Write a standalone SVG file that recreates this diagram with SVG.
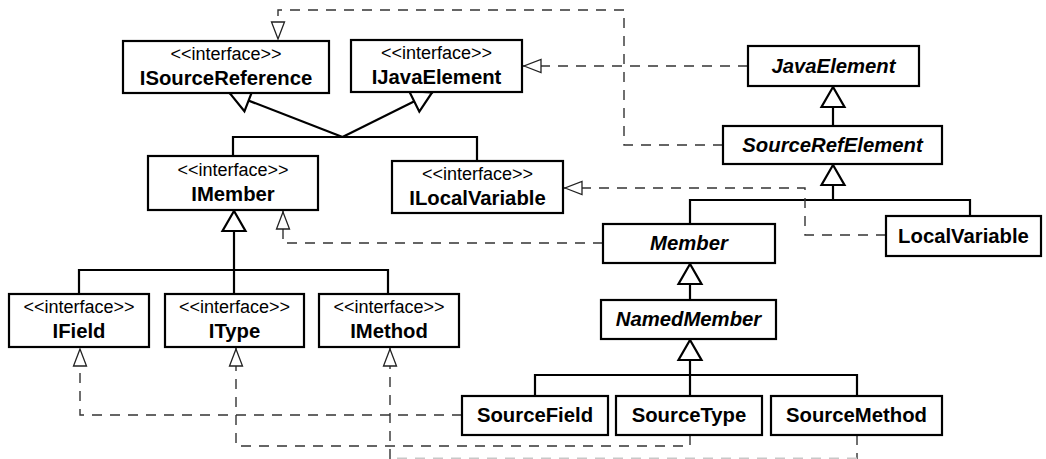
<svg xmlns="http://www.w3.org/2000/svg" width="1046" height="459" viewBox="0 0 1046 459">
<style>
.box{fill:#fff;stroke:#000;stroke-width:2.2}
.st{font-family:"Liberation Sans",Arial,sans-serif;font-size:18px;fill:#000;text-anchor:middle}
.nm{font-family:"Liberation Sans",Arial,sans-serif;font-size:20.3px;font-weight:bold;fill:#000;text-anchor:middle}
.ab{font-style:italic}
.gen{fill:none;stroke:#000;stroke-width:2.2}
.real{fill:none;stroke:#333;stroke-width:1.4;stroke-dasharray:10 8}
.faint{fill:none;stroke:#c8c8c8;stroke-width:1.4;stroke-dasharray:10 8}
</style>
<defs>
<marker id="tri" viewBox="-23 -14 25 28" markerWidth="25" markerHeight="28" refX="0" refY="0" orient="auto" markerUnits="userSpaceOnUse">
<path d="M-1,0 L-21,-11.5 L-21,11.5 Z" fill="#fff" stroke="#000" stroke-width="2.2" stroke-linejoin="miter"/>
</marker>
<marker id="rtri" viewBox="-20 -9 22 18" markerWidth="22" markerHeight="18" refX="0" refY="0" orient="auto" markerUnits="userSpaceOnUse">
<path d="M-1,0 L-18,-6.5 L-18,6.5 Z" fill="#fff" stroke="#222" stroke-width="1.3" stroke-dasharray="none"/>
</marker>
</defs>

<g id="connectors">
<path class="gen" d="M233,156 V137 H477 V161"/>
<path class="gen" d="M342.5,137 L229,93" marker-end="url(#tri)"/>
<path class="gen" d="M342.5,137 L433,92" marker-end="url(#tri)"/>
<path class="gen" d="M833,126 V86" marker-end="url(#tri)"/>
<path class="gen" d="M690,224 V200 H970 V216"/>
<path class="gen" d="M833,200 V164" marker-end="url(#tri)"/>
<path class="gen" d="M690,300 V263" marker-end="url(#tri)"/>
<path class="gen" d="M79,294 V270 H388 V294"/>
<path class="gen" d="M234,294 V210" marker-end="url(#tri)"/>
<path class="gen" d="M535,396 V375 H857 V396"/>
<path class="gen" d="M690,396 V339" marker-end="url(#tri)"/>
<path class="real" d="M748,66 H523" marker-end="url(#rtri)"/>
<path class="real" d="M723,145 H624 V10 H278 V40" marker-end="url(#rtri)"/>
<path class="real" d="M886,235 H805 V188 H564" marker-end="url(#rtri)"/>
<path class="real" d="M603,243 H283 V211" marker-end="url(#rtri)"/>
<path class="real" d="M462,415 H80 V348" marker-end="url(#rtri)"/>
<path class="real" d="M690,435 V446 H236 V348" marker-end="url(#rtri)"/>
<path class="real" d="M857,435 V459"/>
<path class="faint" d="M857,458.3 H390"/>
<path class="real" d="M390,459 V348" marker-end="url(#rtri)"/>
</g>

<g id="ISourceReference">
<rect class="box" x="123" y="41" width="206" height="52"/>
<text class="st" x="226" y="60">&lt;&lt;interface&gt;&gt;</text>
<text class="nm" x="226" y="85">ISourceReference</text>
</g>
<g id="IJavaElement">
<rect class="box" x="351" y="40" width="171" height="52"/>
<text class="st" x="436.5" y="59">&lt;&lt;interface&gt;&gt;</text>
<text class="nm" x="436.5" y="84">IJavaElement</text>
</g>
<g id="JavaElement">
<rect class="box" x="748" y="46" width="171" height="40"/>
<text class="nm ab" x="833.5" y="73">JavaElement</text>
</g>
<g id="SourceRefElement">
<rect class="box" x="723" y="126" width="219" height="38"/>
<text class="nm ab" x="832.5" y="152">SourceRefElement</text>
</g>
<g id="IMember">
<rect class="box" x="148" y="156" width="170" height="54"/>
<text class="st" x="233" y="176">&lt;&lt;interface&gt;&gt;</text>
<text class="nm" x="233" y="201">IMember</text>
</g>
<g id="ILocalVariable">
<rect class="box" x="392" y="161" width="171" height="52"/>
<text class="st" x="477.5" y="180">&lt;&lt;interface&gt;&gt;</text>
<text class="nm" x="477.5" y="205">ILocalVariable</text>
</g>
<g id="Member">
<rect class="box" x="603" y="224" width="172" height="39"/>
<text class="nm ab" x="689" y="250">Member</text>
</g>
<g id="LocalVariable">
<rect class="box" x="886" y="216" width="155" height="40"/>
<text class="nm" x="963.5" y="243">LocalVariable</text>
</g>
<g id="NamedMember">
<rect class="box" x="601" y="300" width="175" height="39"/>
<text class="nm ab" x="688.5" y="326">NamedMember</text>
</g>
<g id="IField">
<rect class="box" x="9" y="294" width="140" height="53"/>
<text class="st" x="79" y="313">&lt;&lt;interface&gt;&gt;</text>
<text class="nm" x="79" y="338">IField</text>
</g>
<g id="IType">
<rect class="box" x="165" y="294" width="139" height="53"/>
<text class="st" x="234.5" y="313">&lt;&lt;interface&gt;&gt;</text>
<text class="nm" x="234.5" y="338">IType</text>
</g>
<g id="IMethod">
<rect class="box" x="319" y="294" width="140" height="53"/>
<text class="st" x="389" y="313">&lt;&lt;interface&gt;&gt;</text>
<text class="nm" x="389" y="338">IMethod</text>
</g>
<g id="SourceField">
<rect class="box" x="462" y="396" width="146" height="39"/>
<text class="nm" x="535" y="422">SourceField</text>
</g>
<g id="SourceType">
<rect class="box" x="616" y="396" width="146" height="39"/>
<text class="nm" x="689" y="422">SourceType</text>
</g>
<g id="SourceMethod">
<rect class="box" x="771" y="396" width="171" height="39"/>
<text class="nm" x="856.5" y="422">SourceMethod</text>
</g>
</svg>
